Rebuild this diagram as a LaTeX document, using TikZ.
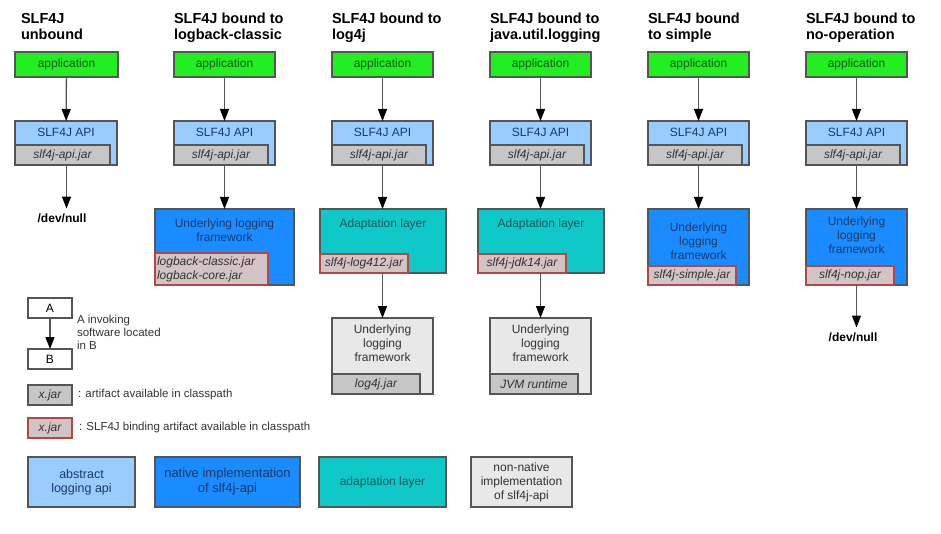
\documentclass[tikz,border=0pt]{standalone}
\usepackage{fontspec}
\setmainfont{Liberation Sans}
\usetikzlibrary{arrows.meta}
\definecolor{appgreen}{HTML}{22EE22}
\definecolor{apiblue}{HTML}{99CCFF}
\definecolor{natblue}{HTML}{1A8CFF}
\definecolor{adteal}{HTML}{11C8C8}
\definecolor{nngrey}{HTML}{E8E8E8}
\definecolor{jargrey}{HTML}{C6C6C6}
\definecolor{jarpink}{HTML}{D2C4C4}
\definecolor{bordergrey}{HTML}{555555}
\definecolor{jarred}{HTML}{B04848}
\definecolor{txgreen}{HTML}{1A5A1A}
\definecolor{txnavy}{HTML}{1A3A6A}
\definecolor{txteal}{HTML}{125A5A}
\definecolor{txgrey}{HTML}{333333}
\begin{document}
\begin{tikzpicture}[x=1pt,y=-1pt,
  every node/.style={inner sep=0pt,outer sep=0pt},
  boxbase/.style={draw=bordergrey,line width=1.1pt,anchor=north west},
  appbox/.style={boxbase,fill=appgreen,text=txgreen,font=\fontsize{12}{14}\selectfont},
  apibox/.style={boxbase,fill=apiblue},
  natbox/.style={boxbase,fill=natblue},
  adbox/.style={boxbase,fill=adteal},
  nnbox/.style={boxbase,fill=nngrey},
  jarbox/.style={draw=bordergrey,line width=1.1pt,fill=jargrey,anchor=south west,text=txgrey,font=\fontsize{12}{14}\selectfont\itshape},
  bindjar/.style={jarbox,draw=jarred,fill=jarpink},
  boxtext/.style={anchor=north,align=center,font=\fontsize{12}{14}\selectfont},
  title/.style={anchor=north west,align=left,font=\fontsize{14.5}{16}\selectfont\bfseries},
  devnull/.style={font=\fontsize{12}{14}\selectfont\bfseries},
  legtext/.style={anchor=west,align=left,text=txgrey,font=\fontsize{11.5}{13}\selectfont},
  arr/.style={draw=bordergrey,line width=1.3pt,-{Triangle[length=12pt,width=9pt,black]}}
]
\useasboundingbox (0,0) rectangle (941,534);
\fill[white] (0,0) rectangle (941,534);

% ---------- titles ----------
\node[title] (t1) at (21,13) {SLF4J\\unbound};
\node[title] (t2) at (174,13) {SLF4J bound to\\logback-classic};
\node[title] (t3) at (332,13) {SLF4J bound to\\log4j};
\node[title] (t4) at (490,13) {SLF4J bound to\\java.util.logging};
\node[title] (t5) at (648,13) {SLF4J bound\\to simple};
\node[title] (t6) at (806,13) {SLF4J bound to\\no-operation};

% ---------- column 1 ----------
\node[appbox,minimum width=103pt,minimum height=25pt] (a1) at (15,52) {application};
\node[apibox,minimum width=102pt,minimum height=44pt] (p1) at (15,121) {};
\node[boxtext,text=txnavy] (p1t) at ([yshift=-7pt]p1.north) {SLF4J API};
\node[jarbox,minimum width=95pt,minimum height=20pt] (j1) at (p1.south west) {slf4j-api.jar};
\node[devnull] (n1) at (62,218) {/dev/null};
\draw[arr] (a1) -- (p1);
\draw[arr] (p1.south -| a1.south) -- ([yshift=5pt]n1.north -| a1.south);

% ---------- column 2 ----------
\node[appbox,minimum width=101pt,minimum height=25pt] (a2) at (174,52) {application};
\node[apibox,minimum width=101pt,minimum height=44pt] (p2) at (174,121) {};
\node[boxtext,text=txnavy] (p2t) at ([yshift=-7pt]p2.north) {SLF4J API};
\node[jarbox,minimum width=94pt,minimum height=20pt] (j2) at (p2.south west) {slf4j-api.jar};
\node[natbox,minimum width=139pt,minimum height=76pt] (u2) at (155,209) {};
\node[boxtext,text=txnavy] (u2t) at ([yshift=-10pt]u2.north) {Underlying logging\\framework};
\node[bindjar,minimum width=113pt,minimum height=32pt,align=left,text width=109pt,inner xsep=2pt] (j2b) at (u2.south west) {logback-classic.jar\\logback-core.jar};
\draw[arr] (a2) -- (p2);
\draw[arr] (p2.south -| a2.south) -- (u2.north -| a2.south);

% ---------- column 3 ----------
\node[appbox,minimum width=101pt,minimum height=25pt] (a3) at (332,52) {application};
\node[apibox,minimum width=101pt,minimum height=44pt] (p3) at (332,121) {};
\node[boxtext,text=txnavy] (p3t) at ([yshift=-7pt]p3.north) {SLF4J API};
\node[jarbox,minimum width=94pt,minimum height=20pt] (j3) at (p3.south west) {slf4j-api.jar};
\node[adbox,minimum width=126pt,minimum height=64pt] (d3) at (320,209) {};
\node[boxtext,text=txteal] (d3t) at ([yshift=-10pt]d3.north) {Adaptation layer};
\node[bindjar,minimum width=88pt,minimum height=19pt] (j3b) at (d3.south west) {slf4j-log412.jar};
\node[nnbox,minimum width=101pt,minimum height=76pt] (u3) at (332,318) {};
\node[boxtext,text=txgrey] (u3t) at ([yshift=-7pt]u3.north) {Underlying\\logging\\framework};
\node[jarbox,minimum width=88pt,minimum height=20pt] (j3c) at (u3.south west) {log4j.jar};
\draw[arr] (a3) -- (p3);
\draw[arr] (p3.south -| a3.south) -- (d3.north -| a3.south);
\draw[arr] (d3.south -| a3.south) -- (u3.north -| a3.south);

% ---------- column 4 ----------
\node[appbox,minimum width=101pt,minimum height=25pt] (a4) at (490,52) {application};
\node[apibox,minimum width=101pt,minimum height=44pt] (p4) at (490,121) {};
\node[boxtext,text=txnavy] (p4t) at ([yshift=-7pt]p4.north) {SLF4J API};
\node[jarbox,minimum width=94pt,minimum height=20pt] (j4) at (p4.south west) {slf4j-api.jar};
\node[adbox,minimum width=126pt,minimum height=64pt] (d4) at (478,209) {};
\node[boxtext,text=txteal] (d4t) at ([yshift=-10pt]d4.north) {Adaptation layer};
\node[bindjar,minimum width=88pt,minimum height=19pt] (j4b) at (d4.south west) {slf4j-jdk14.jar};
\node[nnbox,minimum width=101pt,minimum height=76pt] (u4) at (490,318) {};
\node[boxtext,text=txgrey] (u4t) at ([yshift=-7pt]u4.north) {Underlying\\logging\\framework};
\node[jarbox,minimum width=88pt,minimum height=20pt] (j4c) at (u4.south west) {JVM runtime};
\draw[arr] (a4) -- (p4);
\draw[arr] (p4.south -| a4.south) -- (d4.north -| a4.south);
\draw[arr] (d4.south -| a4.south) -- (u4.north -| a4.south);

% ---------- column 5 ----------
\node[appbox,minimum width=101pt,minimum height=25pt] (a5) at (648,52) {application};
\node[apibox,minimum width=101pt,minimum height=44pt] (p5) at (648,121) {};
\node[boxtext,text=txnavy] (p5t) at ([yshift=-7pt]p5.north) {SLF4J API};
\node[jarbox,minimum width=94pt,minimum height=20pt] (j5) at (p5.south west) {slf4j-api.jar};
\node[natbox,minimum width=101pt,minimum height=76pt] (u5) at (648,209) {};
\node[boxtext,text=txnavy] (u5t) at ([yshift=-14pt]u5.north) {Underlying\\logging\\framework};
\node[bindjar,minimum width=88pt,minimum height=19pt] (j5b) at (u5.south west) {slf4j-simple.jar};
\draw[arr] (a5) -- (p5);
\draw[arr] (p5.south -| a5.south) -- (u5.north -| a5.south);

% ---------- column 6 ----------
\node[appbox,minimum width=101pt,minimum height=25pt] (a6) at (806,52) {application};
\node[apibox,minimum width=101pt,minimum height=44pt] (p6) at (806,121) {};
\node[boxtext,text=txnavy] (p6t) at ([yshift=-7pt]p6.north) {SLF4J API};
\node[jarbox,minimum width=94pt,minimum height=20pt] (j6) at (p6.south west) {slf4j-api.jar};
\node[natbox,minimum width=101pt,minimum height=76pt] (u6) at (806,209) {};
\node[boxtext,text=txnavy] (u6t) at ([yshift=-8pt]u6.north) {Underlying\\logging\\framework};
\node[bindjar,minimum width=88pt,minimum height=19pt] (j6b) at (u6.south west) {slf4j-nop.jar};
\node[devnull] (n6) at (853,337) {/dev/null};
\draw[arr] (a6) -- (p6);
\draw[arr] (p6.south -| a6.south) -- (u6.north -| a6.south);
\draw[arr] (u6.south -| a6.south) -- ([yshift=5pt]n6.north -| a6.south);

% ---------- legend ----------
\node[boxbase,fill=white,minimum width=44pt,minimum height=20pt,font=\fontsize{12}{14}\selectfont] (la) at (28,298) {A};
\node[boxbase,fill=white,minimum width=44pt,minimum height=20pt,font=\fontsize{12}{14}\selectfont] (lb) at (28,349) {B};
\draw[arr] (la) -- (lb);
\node[legtext,anchor=north west] (lt1) at (77,315) {A invoking\\software located\\in B};

\node[jarbox,anchor=north west,minimum width=44pt,minimum height=20pt] (lj1) at (28,385) {x.jar};
\node[legtext] (lt2) at (78,395) {: artifact available in classpath};
\node[bindjar,anchor=north west,minimum width=44pt,minimum height=20pt] (lj2) at (28,418) {x.jar};
\node[legtext] (lt3) at (79,428) {: SLF4J binding artifact available in classpath};

\node[apibox,minimum width=107pt,minimum height=50pt,align=center,text=txnavy,font=\fontsize{12.5}{14}\selectfont] (lg1) at (28,457) {abstract\\logging api};
\node[natbox,minimum width=145pt,minimum height=50pt,align=center,text=txnavy,font=\fontsize{13}{15}\selectfont] (lg2) at (155,457) {native implementation\\of slf4j-api};
\node[adbox,minimum width=127pt,minimum height=50pt,align=center,text=txteal,font=\fontsize{12}{14}\selectfont] (lg3) at (319,457) {adaptation layer};
\node[nnbox,minimum width=101pt,minimum height=50pt,align=center,text=txgrey,font=\fontsize{12}{14}\selectfont] (lg4) at (471,457) {non-native\\implementation\\of slf4j-api};
\end{tikzpicture}
\end{document}
